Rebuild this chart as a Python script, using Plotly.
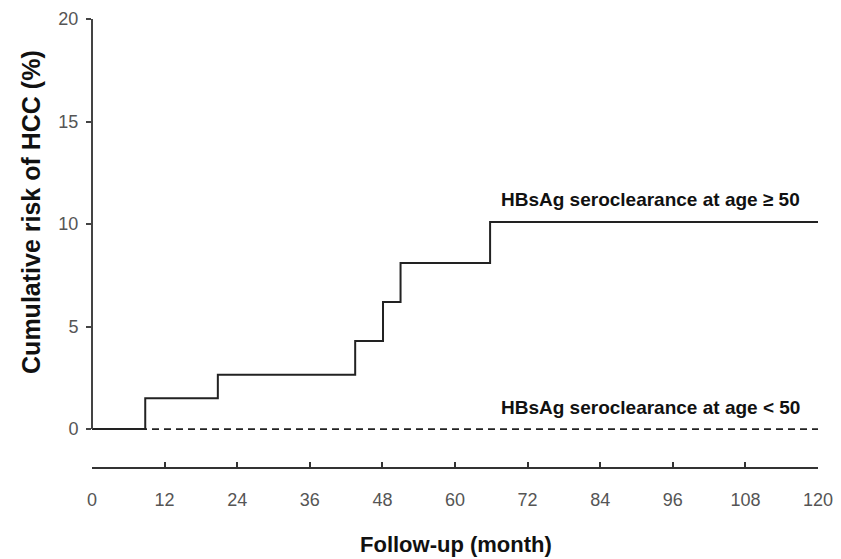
import plotly.graph_objects as go

# Data
months_ge50 = [0, 8.8, 20.8, 43.5, 48.1, 51.0, 65.8, 120]
risk_ge50 = [0, 1.5, 2.65, 4.3, 6.2, 8.1, 10.1, 10.1]
months_lt50 = [0, 120]
risk_lt50 = [0, 0]
x_ticks = [0, 12, 24, 36, 48, 60, 72, 84, 96, 108, 120]
y_ticks = [0, 5, 10, 15, 20]
label_ge50 = "HBsAg seroclearance at age \u2265 50"
label_lt50 = "HBsAg seroclearance at age < 50"

fig = go.Figure()
fig.add_trace(go.Scatter(
    x=months_lt50, y=risk_lt50, mode="lines",
    line=dict(color="#222", width=1.8, dash="7px,5px"),
    cliponaxis=False, showlegend=False, hoverinfo="skip"))
fig.add_trace(go.Scatter(
    x=months_ge50, y=risk_ge50, mode="lines", line_shape="hv",
    line=dict(color="#222", width=2),
    cliponaxis=False, showlegend=False, hoverinfo="skip"))

# y-axis line only from 0 to 20
fig.add_shape(type="line", xref="paper", yref="y", x0=0, x1=0, y0=0, y1=20,
              line=dict(color="#444", width=2))

fig.add_annotation(x=67.2, y=11.2, text="<b>%s</b>" % label_ge50, showarrow=False,
                   xanchor="left", yanchor="middle",
                   font=dict(family="Liberation Sans, Arial", size=19, color="#111"))
fig.add_annotation(x=67.2, y=1.06, text="<b>%s</b>" % label_lt50, showarrow=False,
                   xanchor="left", yanchor="middle",
                   font=dict(family="Liberation Sans, Arial", size=19, color="#111"))

fig.add_annotation(xref="paper", yref="paper", x=-0.085, y=0.57,
                   text="<b>Cumulative risk of HCC (%)</b>", textangle=-90,
                   showarrow=False, xanchor="center", yanchor="middle",
                   font=dict(family="Liberation Sans, Arial", size=25, color="#111"))
fig.add_annotation(xref="paper", yref="paper", x=0.502, y=-0.172,
                   text="<b>Follow-up (month)</b>", showarrow=False,
                   xanchor="center", yanchor="middle",
                   font=dict(family="Liberation Sans, Arial", size=22, color="#111"))

fig.update_xaxes(range=[0, 120], tickvals=x_ticks, showline=True, linecolor="#333",
                 linewidth=2, ticks="inside", ticklen=5, tickcolor="#333", tickwidth=1.5,
                 showgrid=False, zeroline=False, ticklabelstandoff=15, automargin=False,
                 ticklabeloverflow="allow",
                 tickfont=dict(family="Liberation Sans, Arial", size=18, color="#555"))
fig.update_yaxes(range=[-1.85, 20], tickvals=y_ticks, showline=False,
                 ticks="outside", ticklen=5, tickcolor="#444", tickwidth=1.5,
                 showgrid=False, zeroline=False, ticklabelstandoff=4, automargin=False,
                 ticklabeloverflow="allow",
                 tickfont=dict(family="Liberation Sans, Arial", size=18, color="#555"))

# page body adds an 8px offset; size the figure so it fits in the 841x559 window
fig.update_layout(width=833, height=551, margin=dict(l=84, r=23, t=11, b=92),
                  plot_bgcolor="white", paper_bgcolor="white")

fig.write_html("out.html")
